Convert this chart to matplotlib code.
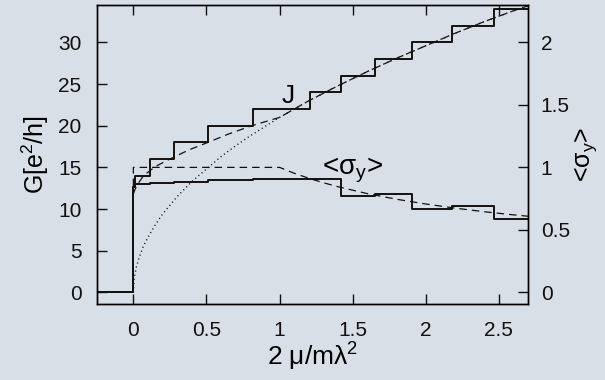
import matplotlib
matplotlib.use("Agg")
import matplotlib.pyplot as plt

BG = "#d8dfe6"
INK = "#111111"

# conductance staircase G (step starts, "post")
g_x = [-0.25, 0.0, 0.013, 0.115, 0.275, 0.51, 0.815, 1.205, 1.42, 1.653, 1.904, 2.176, 2.468, 2.7]
g_val = [0, 12.7, 14, 16, 18, 20, 22, 24, 26, 28, 30, 32, 34, 34]

# <sigma_y> staircase (right axis)
s_x = [-0.25, 0.0, 0.013, 0.115, 0.275, 0.51, 0.815, 1.42, 1.653, 1.904, 2.176, 2.468, 2.7]
s_val = [0, 0.847, 0.865, 0.875, 0.887, 0.9, 0.91, 0.771, 0.789, 0.667, 0.687, 0.59, 0.59]

# dashed curve through J
jd_x = [0.0, 0.01, 0.03, 0.07, 0.15, 0.25, 0.38, 0.51, 0.65, 0.81, 1.0,
        1.2, 1.4, 1.6, 1.8, 2.0, 2.2, 2.4, 2.6, 2.7]
jd_val = [11.8, 12.3, 13.0, 14.0, 15.1, 16.0, 17.1, 18.0, 19.0, 20.0, 21.0,
          23.0, 24.8, 26.5, 28.1, 29.6, 31.1, 32.5, 33.8, 34.4]

# dotted curve
dt_x = [0, 0.005, 0.01, 0.02, 0.04, 0.07, 0.1, 0.15, 0.2, 0.3, 0.4, 0.5, 0.6, 0.7,
        0.8, 0.9, 1.0, 1.2, 1.4, 1.6, 1.8, 2.0, 2.2, 2.4, 2.6, 2.7]
dt_val = [0, 1.5, 2.1, 3.0, 4.2, 5.6, 6.6, 8.1, 9.4, 11.5, 13.3, 14.8, 16.3, 17.6,
          18.8, 19.9, 21.0, 23.0, 24.8, 26.5, 28.1, 29.6, 31.1, 32.5, 33.8, 34.4]

# dashed curve through <sigma_y>
sd_x = [0.0, 0.0, 1.0, 1.1, 1.2, 1.3, 1.4, 1.6, 1.8, 2.0, 2.2, 2.4, 2.6, 2.7]
sd_val = [0.85, 1.0, 1.0, 0.953, 0.913, 0.877, 0.845, 0.79, 0.745, 0.707, 0.674, 0.645, 0.62, 0.609]

x_ticks = [0, 0.5, 1, 1.5, 2, 2.5]
x_ticklabels = ["0", "0.5", "1", "1.5", "2", "2.5"]
g_ticks = [0, 5, 10, 15, 20, 25, 30]
s_ticks = [0, 0.5, 1, 1.5, 2]
s_ticklabels = ["0", "0.5", "1", "1.5", "2"]

plt.rcParams.update({
    "font.family": ["Liberation Sans", "DejaVu Sans"],
    "mathtext.fontset": "custom",
    "mathtext.rm": "Liberation Sans",
    "mathtext.it": "Liberation Sans:italic",
    "mathtext.bf": "Liberation Sans:bold",
    "axes.linewidth": 1.0,
})

G_LIM = (-1.4, 34.5)
RATIO = 15.0
TICK_SIZE = 15

fig = plt.figure(figsize=(6.05, 3.8), dpi=100, facecolor=BG)
ax = fig.add_axes([0.160, 0.200, 0.713, 0.787], facecolor=BG)
ax2 = ax.twinx()

ax.step(g_x, g_val, where="post", color=INK, lw=1.4)
ax.plot(jd_x, jd_val, color=INK, lw=0.9, ls=(0, (6, 4)))
ax.plot(dt_x, dt_val, color=INK, lw=1.0, ls=(0, (0.8, 2.2)))

ax2.step(s_x, s_val, where="post", color=INK, lw=1.4)
ax2.plot(sd_x, sd_val, color=INK, lw=0.9, ls=(0, (6, 4)))

ax.set_xlim(-0.25, 2.7)
ax.set_ylim(*G_LIM)
ax2.set_ylim(G_LIM[0] / RATIO, G_LIM[1] / RATIO)

ax.set_xticks(x_ticks)
ax.set_xticklabels(x_ticklabels)
ax.set_yticks(g_ticks)
ax2.set_yticks(s_ticks)
ax2.set_yticklabels(s_ticklabels)

ax.tick_params(axis="both", direction="in", length=7, width=1.0, labelsize=TICK_SIZE,
               top=True, right=False, colors=INK)
ax.tick_params(axis="x", pad=12)
ax.tick_params(axis="y", pad=11)
ax2.tick_params(axis="y", direction="in", length=7, width=1.0, labelsize=TICK_SIZE, pad=9, colors=INK)

ax.set_xlabel(r"2 μ/mλ$^2$", fontsize=19, labelpad=1)
ax.set_ylabel(r"G[e$^2$/h]", fontsize=18, labelpad=5)
ax2.set_ylabel(r"<σ$_\mathrm{y}$>", fontsize=18, labelpad=2)

ax.text(1.062, 22.7, "J", fontsize=19, ha="center", va="baseline")
ax.text(1.5, 14.1, r"<σ$_\mathrm{y}$>", fontsize=20, ha="center", va="baseline")

fig.savefig("out.png", dpi=100, facecolor=BG)
